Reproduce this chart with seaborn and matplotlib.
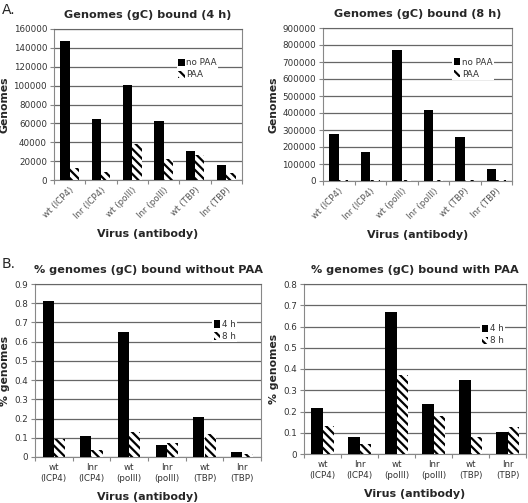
import matplotlib
matplotlib.use("Agg")
import matplotlib.pyplot as plt
import seaborn as sns
import pandas as pd
import numpy as np

sns.set_style("white")
plt.rcParams['font.family'] = ['DejaVu Sans']
plt.rcParams['hatch.linewidth'] = 1.6

viruses = ["wt (ICP4)", "Inr (ICP4)", "wt (polII)", "Inr (polII)", "wt (TBP)", "Inr (TBP)"]
viruses_2line = ["wt\n(ICP4)", "Inr\n(ICP4)", "wt\n(polII)", "Inr\n(polII)", "wt\n(TBP)", "Inr\n(TBP)"]

g4_noPAA = [147000, 65000, 101000, 62000, 31000, 16000]
g4_PAA = [13000, 9000, 38000, 22000, 26000, 7500]
g8_noPAA = [277000, 172000, 770000, 420000, 257000, 72000]
g8_PAA = [3000, 3000, 8000, 8000, 3000, 3000]
pct_noPAA_4h = [0.81, 0.11, 0.65, 0.06, 0.21, 0.025]
pct_noPAA_8h = [0.095, 0.035, 0.13, 0.075, 0.12, 0.018]
pct_PAA_4h = [0.215, 0.08, 0.67, 0.235, 0.35, 0.105]
pct_PAA_8h = [0.13, 0.045, 0.37, 0.18, 0.078, 0.125]

GRID = "#666666"
SPINE = "#888888"
TICKC = "#333333"


def panel(ax, cats, s1, s2, names, title, ylabel, ymax, ystep, yfmt, legpos, rot):
    df = pd.DataFrame({
        "virus": list(cats) * 2,
        "val": list(s1) + list(s2),
        "series": [names[0]] * len(cats) + [names[1]] * len(cats),
    })
    sns.barplot(data=df, x="virus", y="val", hue="series", palette=["black", "white"],
                width=0.6, saturation=1, ax=ax, legend=False, errorbar=None, zorder=3)
    for p in ax.containers[0]:
        p.set_linewidth(0)
    for p in ax.containers[1]:
        p.set_hatch("\\\\\\\\")
        p.set_edgecolor("black")
        p.set_linewidth(0)
    ax.set_ylim(0, ymax)
    ax.set_xlim(-0.5, len(cats) - 0.5)
    yt = np.arange(0, ymax + ystep / 2, ystep)
    ax.set_yticks(yt)
    ax.set_yticklabels([yfmt(v) for v in yt], fontsize=6.3, color=TICKC)
    ax.yaxis.grid(True, color=GRID, linewidth=0.9, zorder=0)
    ax.set_axisbelow(True)
    ax.set_xticks(range(len(cats)))
    if rot:
        ax.set_xticklabels(cats, rotation=45, ha="right", rotation_mode="anchor", fontsize=6.3, color="#555555")
    else:
        ax.set_xticklabels(cats, fontsize=6.3, color=TICKC, linespacing=1.4)
    ax.tick_params(axis="x", length=0, pad=4)
    ax.tick_params(axis="y", length=3, color=SPINE, width=0.8, left=True, pad=2)
    # category separator ticks
    ax.set_xticks(np.arange(-0.5, len(cats), 1), minor=True)
    ax.tick_params(axis="x", which="minor", length=3, color=SPINE, width=0.8, bottom=True)
    for s in ["left", "bottom", "right", "top"]:
        ax.spines[s].set_color(SPINE)
        ax.spines[s].set_linewidth(0.8)
    ax.spines["top"].set_color(GRID)
    ax.set_title(title, fontsize=8.1, fontweight="bold", pad=8)
    ax.set_xlabel("Virus (antibody)", fontsize=8, fontweight="bold", labelpad=6)
    ax.set_ylabel(ylabel, fontsize=7.8, fontweight="bold", labelpad=3)
    h1 = ax.containers[0]
    h2 = ax.containers[1]
    leg = ax.legend([h1, h2], names, loc="upper left", bbox_to_anchor=legpos, fontsize=6.3,
                    handlelength=0.7, handleheight=0.9, handletextpad=0.2, labelspacing=0.35,
                    borderpad=0.15, frameon=True, fancybox=False, borderaxespad=0)
    leg.get_frame().set_facecolor("white")
    leg.get_frame().set_edgecolor("none")
    leg.get_frame().set_alpha(1)
    for t in leg.get_texts():
        t.set_color(TICKC)


fig = plt.figure(figsize=(5.28, 5.03), dpi=100)
ax1 = fig.add_axes([54 / 528, 1 - 180 / 503, 188 / 528, 151 / 503])
ax2 = fig.add_axes([323 / 528, 1 - 181 / 503, 189 / 528, 153 / 503])
ax3 = fig.add_axes([35 / 528, 1 - 457 / 503, 226 / 528, 173 / 503])
ax4 = fig.add_axes([304 / 528, 1 - 454 / 503, 222 / 528, 170 / 503])

intfmt = lambda v: f"{int(round(v))}"
decfmt = lambda v: "0" if abs(v) < 1e-9 else f"{v:.1f}"

panel(ax1, viruses, g4_noPAA, g4_PAA, ["no PAA", "PAA"], "Genomes (gC) bound (4 h)", "Genomes",
      160000, 20000, intfmt, (0.655, 0.815), True)
panel(ax2, viruses, g8_noPAA, g8_PAA, ["no PAA", "PAA"], "Genomes (gC) bound (8 h)", "Genomes",
      900000, 100000, intfmt, (0.685, 0.815), True)
panel(ax3, viruses_2line, pct_noPAA_4h, pct_noPAA_8h, ["4 h", "8 h"], "% genomes (gC) bound without PAA",
      "% genomes", 0.9, 0.1, decfmt, (0.785, 0.80), False)
panel(ax4, viruses_2line, pct_PAA_4h, pct_PAA_8h, ["4 h", "8 h"], "% genomes (gC) bound with PAA",
      "% genomes", 0.8, 0.1, decfmt, (0.795, 0.77), False)

fig.text(2 / 528, 1 - 10 / 503, "A.", fontsize=10, va="center", ha="left")
fig.text(2 / 528, 1 - 264 / 503, "B.", fontsize=10, va="center", ha="left")

fig.savefig("out.png", dpi=100)
